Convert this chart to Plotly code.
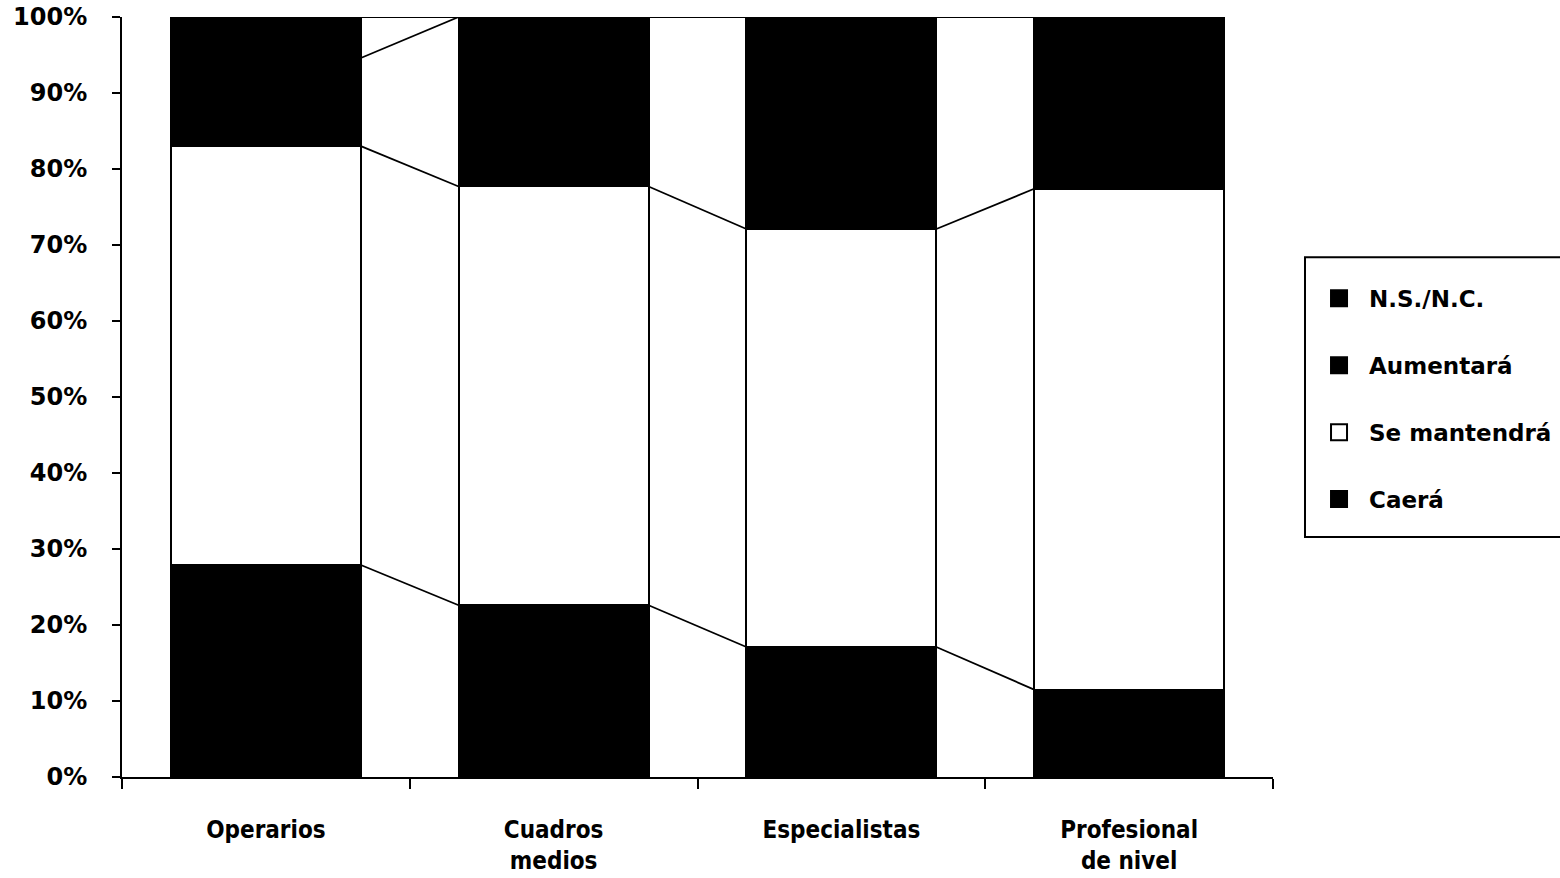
import numpy as np
import plotly.graph_objects as go

# ---- data ----
categories = ["Operarios", "Cuadros<br>medios", "Especialistas", "Profesional<br>de nivel"]
caera = [27.9, 22.6, 17.1, 11.5]
se_mantendra = [55.1, 55.1, 55.0, 65.9]
aumentara = [11.6, 22.3, 27.9, 22.6]
ns_nc = [5.4, 0.0, 0.0, 0.0]

series_names = ["Caerá", "Se mantendrá", "Aumentará", "N.S./N.C."]
series_values = [caera, se_mantendra, aumentara, ns_nc]
series_colors = ["black", "white", "black", "black"]
legend_order = ["N.S./N.C.", "Aumentará", "Se mantendrá", "Caerá"]
y_tick_vals = [0, 10, 20, 30, 40, 50, 60, 70, 80, 90, 100]
y_tick_text = ["0%", "10%", "20%", "30%", "40%", "50%", "60%", "70%", "80%", "90%", "100%"]

BAR_W = 0.66
FONT = "DejaVu Sans"
FONT_C = "DejaVu Sans Condensed, DejaVu Sans"

fig = go.Figure()

for name, vals, col in zip(series_names, series_values, series_colors):
    fig.add_trace(go.Bar(
        x=categories, y=vals, name=name, width=BAR_W,
        marker=dict(color=col, line=dict(color="black", width=2)),
        showlegend=False, hoverinfo="name+y",
    ))

# series lines connecting segment tops between adjacent bars
cum = np.cumsum(np.array(series_values), axis=0)
lx, ly = [], []
for k in range(cum.shape[0]):
    for i in range(len(categories) - 1):
        lx += [i + BAR_W / 2, i + 1 - BAR_W / 2, None]
        ly += [cum[k][i], cum[k][i + 1], None]
fig.add_trace(go.Scatter(
    x=lx, y=ly, mode="lines", xaxis="x2", yaxis="y",
    line=dict(color="black", width=1.8), showlegend=False, hoverinfo="skip",
    cliponaxis=False,
))

# legend entries
color_of = dict(zip(series_names, series_colors))
for name in legend_order:
    fig.add_trace(go.Scatter(
        x=[None], y=[None], mode="markers", name=name, legendgroup=name,
        xaxis="x2", yaxis="y",
        marker=dict(symbol="square", size=22, color=color_of[name],
                    line=dict(color="black", width=2)),
    ))

# legend frame
fig.add_shape(type="rect", xref="paper", yref="paper",
              x0=1.0278, x1=1.32, y0=0.3158, y1=0.684,
              line=dict(color="black", width=2), fillcolor="rgba(0,0,0,0)", layer="above")

fig.update_layout(
    width=1560, height=878,
    margin=dict(l=122, r=287, t=17, b=101, autoexpand=False),
    paper_bgcolor="white", plot_bgcolor="white",
    barmode="stack",
    font=dict(family=FONT, size=22, color="black", weight="bold"),
    xaxis=dict(
        type="category", range=[-0.5, 3.5], automargin=False,
        showline=True, linecolor="black", linewidth=2,
        ticks="outside", tickson="boundaries", ticklen=10, tickwidth=2, tickcolor="black",
        showgrid=False, zeroline=False,
        tickfont=dict(family=FONT_C, size=24, color="black", weight="bold"),
        ticklabelstandoff=30,
    ),
    xaxis2=dict(overlaying="x", range=[-0.5, 3.5], visible=False),
    yaxis=dict(
        range=[0, 100], tickmode="array", tickvals=y_tick_vals, ticktext=y_tick_text,
        automargin=False, ticklabeloverflow="allow",
        showline=True, linecolor="black", linewidth=2,
        ticks="outside", ticklen=8, tickwidth=2, tickcolor="black",
        showgrid=False, zeroline=False,
        tickfont=dict(family=FONT, size=24, color="black", weight="bold"),
        ticklabelstandoff=20,
    ),
    legend=dict(
        x=1.0313, y=0.658, xanchor="left", yanchor="top",
        borderwidth=0, bgcolor="rgba(0,0,0,0)",
        traceorder="grouped", tracegroupgap=34, itemwidth=50,
        font=dict(family=FONT, size=23, color="black", weight="bold"),
    ),
)

fig.write_html(
    "out.html",
    config={"displayModeBar": False},
    post_script="document.body.style.margin='0';document.body.style.overflow='hidden';",
)
